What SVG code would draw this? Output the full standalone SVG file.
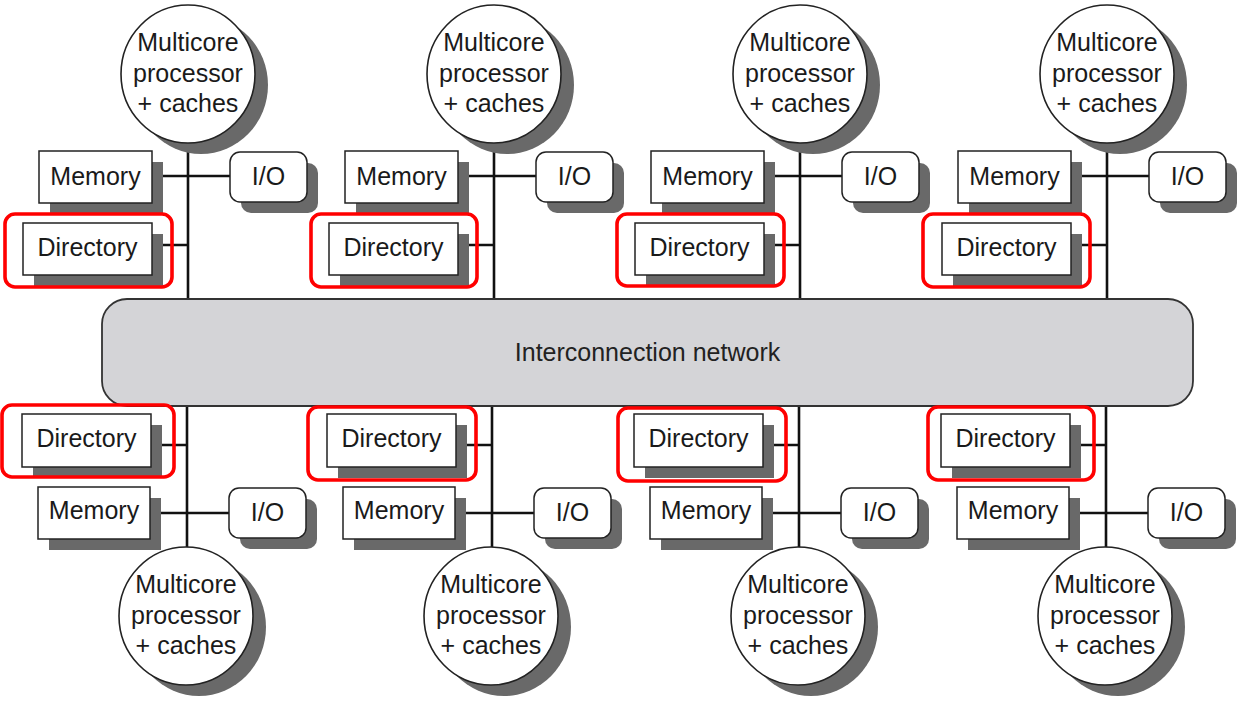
<svg xmlns="http://www.w3.org/2000/svg" width="1244" height="704" viewBox="0 0 1244 704">
<style>
.sh{fill:#696969;stroke:none}
.box{fill:#fff;stroke:#222;stroke-width:1.5}
.proc{fill:#fff;stroke:#222;stroke-width:1.6}
.net{fill:#d4d4d7;stroke:#333;stroke-width:1.8}
.ln{stroke:#111;stroke-width:2.6;fill:none}
.hl{fill:none;stroke:#f00;stroke-width:3.6}
text{font-family:"Liberation Sans",Arial,Helvetica,sans-serif;font-size:25px;fill:#1a1a1a;text-anchor:middle}
</style>
<rect width="1244" height="704" fill="#fff"/>

<g id="connectors">
  <!-- top columns -->
  <path class="ln" d="M188 143V299M152 176H230M152 245H188"/>
  <path class="ln" d="M494 143V299M458 176H536M458 245H494"/>
  <path class="ln" d="M800 143V299M764 176H842M764 245H800"/>
  <path class="ln" d="M1107 143V299M1071 176H1149M1071 245H1107"/>
  <!-- bottom columns -->
  <path class="ln" d="M187 406V548M151 445H187M150 513H229"/>
  <path class="ln" d="M492 406V548M456 445H492M455 513H534"/>
  <path class="ln" d="M799 406V548M763 445H799M762 513H841"/>
  <path class="ln" d="M1106 406V548M1070 445H1106M1069 513H1148"/>
</g>

<g id="network">
  <rect class="net" x="102" y="299" width="1091" height="107" rx="25"/>
  <text x="647.5" y="361" style="fill:#222">Interconnection network</text>
</g>

<!-- Top column 1 -->
<g id="proc-t1"><ellipse class="sh" cx="201" cy="85" rx="67" ry="69"/><ellipse class="proc" cx="188" cy="74" rx="67" ry="69"/><text x="188" y="51">Multicore</text><text x="188" y="82">processor</text><text x="188" y="112">+ caches</text></g>
<g id="mem-t1"><rect class="sh" x="50" y="162" width="113" height="52"/><rect class="box" x="39" y="151" width="113" height="52"/><text x="95.5" y="185">Memory</text></g>
<g id="io-t1"><rect class="sh" x="241" y="163" width="77" height="50" rx="10"/><rect class="box" x="230" y="152" width="77" height="50" rx="10"/><text x="268.5" y="185">I/O</text></g>
<g id="dir-t1"><rect class="sh" x="34" y="234" width="129" height="52"/><rect class="box" x="23" y="223" width="129" height="52"/><text x="87.5" y="256">Directory</text></g>

<!-- Top column 2 -->
<g id="proc-t2"><ellipse class="sh" cx="507" cy="85" rx="67" ry="69"/><ellipse class="proc" cx="494" cy="74" rx="67" ry="69"/><text x="494" y="51">Multicore</text><text x="494" y="82">processor</text><text x="494" y="112">+ caches</text></g>
<g id="mem-t2"><rect class="sh" x="356" y="162" width="113" height="52"/><rect class="box" x="345" y="151" width="113" height="52"/><text x="401.5" y="185">Memory</text></g>
<g id="io-t2"><rect class="sh" x="547" y="163" width="77" height="50" rx="10"/><rect class="box" x="536" y="152" width="77" height="50" rx="10"/><text x="574.5" y="185">I/O</text></g>
<g id="dir-t2"><rect class="sh" x="340" y="234" width="129" height="52"/><rect class="box" x="329" y="223" width="129" height="52"/><text x="393.5" y="256">Directory</text></g>

<!-- Top column 3 -->
<g id="proc-t3"><ellipse class="sh" cx="813" cy="85" rx="67" ry="69"/><ellipse class="proc" cx="800" cy="74" rx="67" ry="69"/><text x="800" y="51">Multicore</text><text x="800" y="82">processor</text><text x="800" y="112">+ caches</text></g>
<g id="mem-t3"><rect class="sh" x="662" y="162" width="113" height="52"/><rect class="box" x="651" y="151" width="113" height="52"/><text x="707.5" y="185">Memory</text></g>
<g id="io-t3"><rect class="sh" x="853" y="163" width="77" height="50" rx="10"/><rect class="box" x="842" y="152" width="77" height="50" rx="10"/><text x="880.5" y="185">I/O</text></g>
<g id="dir-t3"><rect class="sh" x="646" y="234" width="129" height="52"/><rect class="box" x="635" y="223" width="129" height="52"/><text x="699.5" y="256">Directory</text></g>

<!-- Top column 4 -->
<g id="proc-t4"><ellipse class="sh" cx="1120" cy="85" rx="67" ry="69"/><ellipse class="proc" cx="1107" cy="74" rx="67" ry="69"/><text x="1107" y="51">Multicore</text><text x="1107" y="82">processor</text><text x="1107" y="112">+ caches</text></g>
<g id="mem-t4"><rect class="sh" x="969" y="162" width="113" height="52"/><rect class="box" x="958" y="151" width="113" height="52"/><text x="1014.5" y="185">Memory</text></g>
<g id="io-t4"><rect class="sh" x="1160" y="163" width="77" height="50" rx="10"/><rect class="box" x="1149" y="152" width="77" height="50" rx="10"/><text x="1187.5" y="185">I/O</text></g>
<g id="dir-t4"><rect class="sh" x="953" y="234" width="129" height="52"/><rect class="box" x="942" y="223" width="129" height="52"/><text x="1006.5" y="256">Directory</text></g>

<!-- Bottom column 1 -->
<g id="dir-b1"><rect class="sh" x="33" y="425" width="129" height="53"/><rect class="box" x="22" y="414" width="129" height="53"/><text x="86.5" y="447">Directory</text></g>
<g id="mem-b1"><rect class="sh" x="49" y="498" width="112" height="52"/><rect class="box" x="38" y="487" width="112" height="52"/><text x="94" y="519">Memory</text></g>
<g id="io-b1"><rect class="sh" x="240" y="499" width="77" height="50" rx="10"/><rect class="box" x="229" y="488" width="77" height="50" rx="10"/><text x="267.5" y="521">I/O</text></g>
<g id="proc-b1"><ellipse class="sh" cx="199" cy="627" rx="67" ry="69"/><ellipse class="proc" cx="186" cy="616" rx="67" ry="69"/><text x="186" y="593">Multicore</text><text x="186" y="624">processor</text><text x="186" y="654">+ caches</text></g>

<!-- Bottom column 2 -->
<g id="dir-b2"><rect class="sh" x="338" y="425" width="129" height="53"/><rect class="box" x="327" y="414" width="129" height="53"/><text x="391.5" y="447">Directory</text></g>
<g id="mem-b2"><rect class="sh" x="354" y="498" width="112" height="52"/><rect class="box" x="343" y="487" width="112" height="52"/><text x="399" y="519">Memory</text></g>
<g id="io-b2"><rect class="sh" x="545" y="499" width="77" height="50" rx="10"/><rect class="box" x="534" y="488" width="77" height="50" rx="10"/><text x="572.5" y="521">I/O</text></g>
<g id="proc-b2"><ellipse class="sh" cx="504" cy="627" rx="67" ry="69"/><ellipse class="proc" cx="491" cy="616" rx="67" ry="69"/><text x="491" y="593">Multicore</text><text x="491" y="624">processor</text><text x="491" y="654">+ caches</text></g>

<!-- Bottom column 3 -->
<g id="dir-b3"><rect class="sh" x="645" y="425" width="129" height="53"/><rect class="box" x="634" y="414" width="129" height="53"/><text x="698.5" y="447">Directory</text></g>
<g id="mem-b3"><rect class="sh" x="661" y="498" width="112" height="52"/><rect class="box" x="650" y="487" width="112" height="52"/><text x="706" y="519">Memory</text></g>
<g id="io-b3"><rect class="sh" x="852" y="499" width="77" height="50" rx="10"/><rect class="box" x="841" y="488" width="77" height="50" rx="10"/><text x="879.5" y="521">I/O</text></g>
<g id="proc-b3"><ellipse class="sh" cx="811" cy="627" rx="67" ry="69"/><ellipse class="proc" cx="798" cy="616" rx="67" ry="69"/><text x="798" y="593">Multicore</text><text x="798" y="624">processor</text><text x="798" y="654">+ caches</text></g>

<!-- Bottom column 4 -->
<g id="dir-b4"><rect class="sh" x="952" y="425" width="129" height="53"/><rect class="box" x="941" y="414" width="129" height="53"/><text x="1005.5" y="447">Directory</text></g>
<g id="mem-b4"><rect class="sh" x="968" y="498" width="112" height="52"/><rect class="box" x="957" y="487" width="112" height="52"/><text x="1013" y="519">Memory</text></g>
<g id="io-b4"><rect class="sh" x="1159" y="499" width="77" height="50" rx="10"/><rect class="box" x="1148" y="488" width="77" height="50" rx="10"/><text x="1186.5" y="521">I/O</text></g>
<g id="proc-b4"><ellipse class="sh" cx="1118" cy="627" rx="67" ry="69"/><ellipse class="proc" cx="1105" cy="616" rx="67" ry="69"/><text x="1105" y="593">Multicore</text><text x="1105" y="624">processor</text><text x="1105" y="654">+ caches</text></g>

<g id="highlights">
  <rect class="hl" x="5" y="214" width="167" height="73" rx="10"/>
  <rect class="hl" x="311" y="214" width="166" height="73" rx="10"/>
  <rect class="hl" x="617" y="214" width="167" height="72" rx="10"/>
  <rect class="hl" x="923" y="214" width="167" height="73" rx="10"/>
  <rect class="hl" x="2" y="405" width="172" height="72" rx="10"/>
  <rect class="hl" x="308" y="407" width="168" height="73" rx="10"/>
  <rect class="hl" x="618" y="408" width="168" height="73" rx="10"/>
  <rect class="hl" x="928" y="407" width="166" height="73" rx="10"/>
</g>
</svg>
